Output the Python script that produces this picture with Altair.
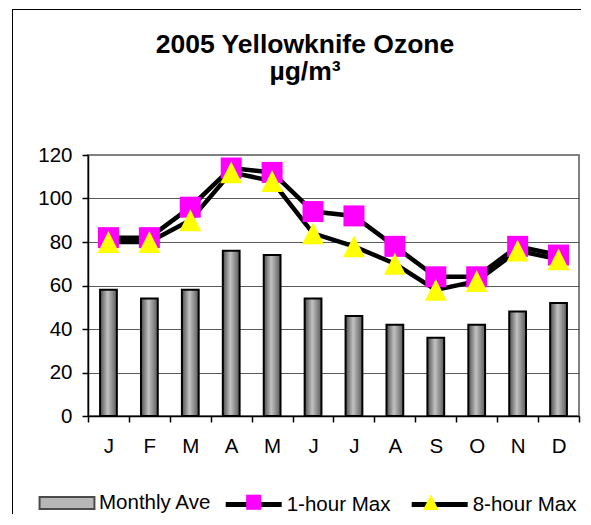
import altair as alt
import pandas as pd

# ---- data ----
month_keys = ["Jan", "Feb", "Mar", "Apr", "May", "Jun", "Jul", "Aug", "Sep", "Oct", "Nov", "Dec"]
monthly_ave = [58, 54, 58, 76, 74, 54, 46, 42, 36, 42, 48, 52]
one_hour_max = [82, 82, 96, 114, 112, 94, 92, 78, 64, 64, 78, 74]
eight_hour_max = [80, 80, 90, 112, 108, 84, 78, 70, 58, 62, 76, 72]
series_names = ["Monthly Ave", "1-hour Max", "8-hour Max"]
y_ticks = [0, 20, 40, 60, 80, 100, 120]
title_lines = ["2005 Yellowknife Ozone", "µg/m³"]

bar_df = pd.DataFrame({"month": month_keys, "value": monthly_ave})
line_df = pd.DataFrame({
    "month": month_keys * 2,
    "value": one_hour_max + eight_hour_max,
    "series": [series_names[1]] * 12 + [series_names[2]] * 12,
})
# separate key for the line legend (so it is not merged with the marker legend)
line_keys = [s + "_" for s in series_names[1:]]
line_df["line"] = line_df["series"] + "_"
legend_df = pd.DataFrame({"bar_series": [series_names[0]], "value": [None]})
one_row = pd.DataFrame({"a": [0]})

FONT = "Liberation Sans"
W, H = 491, 261
LABEL_SIZE = 20.5
LABEL_W = 5.057 * LABEL_SIZE  # width of "1-hour Max"

SQ = "M-0.27,-0.27H0.27V0.27H-0.27Z"
TRI = "M0,-0.28L0.28,0.28H-0.28Z"
LINE = "M-1,0H1"
RECT = "M-0.98,-0.21H0.98V0.21H-0.98Z"

x_enc = alt.X(
    "month:N",
    sort=month_keys,
    scale=alt.Scale(domain=month_keys, paddingInner=0, paddingOuter=0),
    axis=alt.Axis(
        title=None, labelAngle=0, labelExpr="substring(datum.label, 0, 1)",
        tickBand="extent", labelPadding=14, grid=False,
    ),
)
y_enc = alt.Y(
    "value:Q",
    scale=alt.Scale(domain=[0, 120], nice=False),
    axis=alt.Axis(
        title=None, values=y_ticks, grid=True, gridWidth=1,
        gridColor={"condition": {"test": "datum.value === 120", "value": "#808080"}, "value": "#5a5a5a"},
        labelPadding=10,
    ),
)

common_leg = dict(
    orient="none", direction="horizontal", title=None, labelFont=FONT,
    labelFontSize=LABEL_SIZE, symbolSize=3136, padding=0, legendY=319,
)
leg_bar = alt.Legend(
    legendX=-50, symbolType=RECT, columnPadding=10,
    symbolStrokeWidth=2, labelOffset=3,
    labelColor="black", zindex=1, **common_leg,
)
LINE_X = 135.2
leg_line = alt.Legend(
    legendX=LINE_X, symbolType=LINE, symbolStrokeWidth=5,
    labelOffset=2.5, labelColor="black", zindex=1, columnPadding=10,
    labelExpr="replace(datum.label, '_', '')", **common_leg,
)
# marker legend: no label text; its column gap reproduces the line legend's spacing
leg_mark = alt.Legend(
    legendX=LINE_X + 2.5, symbolStrokeWidth=0, labelOffset=0,
    labelExpr="''", columnPadding=5 + 2.5 + LABEL_W + 10, zindex=2, **common_leg,
)

gradient = alt.LinearGradient(
    gradient="linear",
    stops=[
        alt.GradientStop(color="#4d4d4d", offset=0),
        alt.GradientStop(color="#c2c2c2", offset=0.45),
        alt.GradientStop(color="#5a5a5a", offset=1),
    ],
    x1=0, x2=1, y1=0, y2=0,
)

# chart-area frame (top and left edges only; the others lie off the page)
frame_top = alt.Chart(one_row).mark_rect(color="black", strokeWidth=0).encode(
    x=alt.value(-76), x2=alt.value(W + 40), y=alt.value(-146), y2=alt.value(-145)
)
frame_left = alt.Chart(one_row).mark_rect(color="black", strokeWidth=0).encode(
    x=alt.value(-76), x2=alt.value(-75), y=alt.value(-146), y2=alt.value(H + 140)
)

bars = alt.Chart(bar_df).mark_bar(
    fill=gradient, stroke="black", strokeWidth=2, width=alt.RelativeBandSize(0.41)
).encode(x=x_enc, y=y_enc)

lines = alt.Chart(line_df).mark_line(strokeWidth=4.5).encode(
    x=x_enc, y=y_enc,
    color=alt.Color("line:N", scale=alt.Scale(domain=line_keys, range=["black", "black"]), legend=leg_line),
)

points = alt.Chart(line_df).mark_point(filled=True, opacity=1, size=6050, strokeWidth=0).encode(
    x=x_enc, y=y_enc,
    fill=alt.Fill("series:N", scale=alt.Scale(domain=series_names[1:], range=["#ff00ff", "#ffff00"]), legend=leg_mark),
    shape=alt.Shape("series:N", scale=alt.Scale(domain=series_names[1:], range=[SQ, TRI]), legend=leg_mark),
)

bar_legend = alt.Chart(legend_df).mark_point(filled=True, color="#9a9a9a", strokeWidth=2).encode(
    y=alt.Y("value:Q"),
    stroke=alt.Stroke("bar_series:N", scale=alt.Scale(domain=[series_names[0]], range=["black"]), legend=leg_bar),
)

chart = alt.layer(frame_top, frame_left, bars, lines, points, bar_legend).properties(
    width=W, height=H,
    autosize=alt.AutoSizeParams(type="none"),
    padding={"left": 80, "top": 147, "right": 2, "bottom": 98},
    background="white",
    title=alt.Title(
        title_lines, font=FONT, fontSize=26.5, fontWeight="bold", color="black",
        anchor="middle", dx=-28.5, lineHeight=27, baseline="bottom", offset=-103,
    ),
).configure_view(
    stroke="#808080", strokeWidth=2
).configure_axis(
    labelFont=FONT, labelFontSize=LABEL_SIZE, labelColor="black", domainColor="black",
    tickColor="black", domainWidth=1.5, tickWidth=1.5, tickSize=6,
)

chart.save("out.html", embed_options={"renderer": "svg", "actions": False})
